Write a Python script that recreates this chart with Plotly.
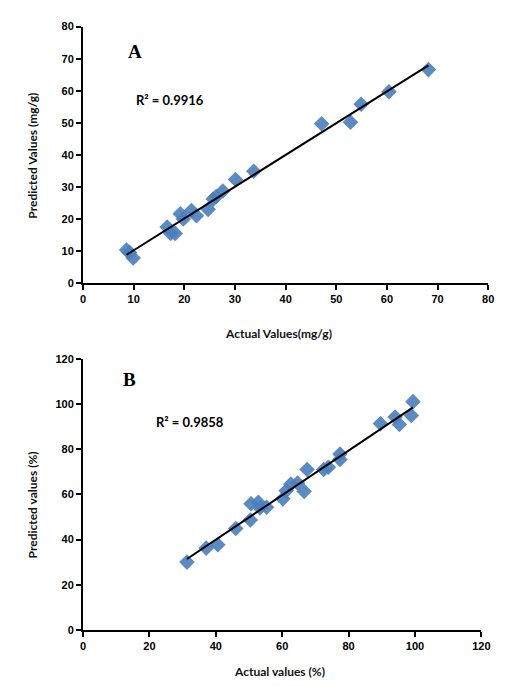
import numpy as np
import plotly.graph_objects as go

# Panel A: adsorption capacity (mg/g)
actual_a = [8.6, 9.2, 9.9, 16.6, 17.3, 18.2, 19.2, 19.8, 21.4, 22.4, 24.7, 25.7,
            26.3, 27.6, 30.1, 33.7, 47.1, 52.8, 54.9, 60.4, 68.2]
predicted_a = [10.3, 9.5, 7.8, 17.5, 15.5, 15.5, 21.6, 20.0, 22.6, 21.0, 23.0, 26.2,
               27.0, 28.7, 32.3, 34.9, 49.7, 50.2, 55.8, 59.7, 66.6]

# Panel B: removal efficiency (%)
actual_b = [31.3, 37.1, 40.6, 46.0, 50.4, 50.6, 52.8, 53.3, 55.3, 60.2, 61.2, 62.6,
            64.6, 66.6, 67.5, 72.5, 73.9, 77.4, 77.4, 89.6, 94.0, 95.3, 98.9, 99.4]
predicted_b = [30.0, 36.2, 37.7, 44.9, 48.6, 55.8, 56.5, 54.0, 54.3, 58.0, 61.6, 64.5,
               65.0, 61.3, 71.0, 71.0, 72.0, 77.8, 75.4, 91.3, 94.2, 90.9, 94.9, 101.0]

r2_labels = ["R² = 0.9916", "R² = 0.9858"]
panel_labels = ["A", "B"]
ticks_a = list(range(0, 81, 10))
ticks_b = list(range(0, 121, 20))

W, H = 506, 686
marker_color = "#4a7ebb"
label_font = dict(family="Lato, Liberation Sans, Arial", size=12, color="#111111")
tick_font = dict(family="Liberation Sans, Arial", size=11, color="black")


def px_x(p):
    return p / W


def px_y(p):
    return 1 - p / H


def bold_ticks(vals):
    return [f"<b>{v}</b>" for v in vals]


fig = go.Figure()


def add_panel(xs, ys, xa, ya):
    fig.add_trace(go.Scatter(
        x=xs, y=ys, mode="markers", xaxis=xa, yaxis=ya,
        marker=dict(symbol="diamond", size=12, color=marker_color, opacity=0.9,
                    line=dict(width=0)),
        showlegend=False,
    ))
    slope, intercept = np.polyfit(xs, ys, 1)
    lx = np.array([min(xs), max(xs)])
    fig.add_trace(go.Scatter(
        x=lx, y=slope * lx + intercept, mode="lines", xaxis=xa, yaxis=ya,
        line=dict(color="black", width=2), showlegend=False,
    ))


add_panel(actual_a, predicted_a, "x", "y")
add_panel(actual_b, predicted_b, "x2", "y2")

axis_common = dict(
    showline=True, linecolor="black", linewidth=2,
    ticks="outside", ticklen=5, tickwidth=2, tickcolor="black",
    showgrid=False, zeroline=False, tickfont=tick_font,
    fixedrange=True,
)

fig.update_layout(
    width=W, height=H,
    margin=dict(l=0, r=0, t=0, b=0),
    paper_bgcolor="white", plot_bgcolor="white",
    xaxis=dict(domain=[px_x(82), px_x(497)], range=[0, 80], tickvals=ticks_a,
               ticktext=bold_ticks(ticks_a), anchor="y", **axis_common),
    yaxis=dict(domain=[px_y(282), px_y(21)], range=[0, 80], tickvals=ticks_a,
               ticktext=bold_ticks(ticks_a), anchor="x", **axis_common),
    xaxis2=dict(domain=[px_x(82), px_x(490)], range=[0, 120], tickvals=ticks_b,
                ticktext=bold_ticks(ticks_b), anchor="y2", **axis_common),
    yaxis2=dict(domain=[px_y(635), px_y(359)], range=[0, 120], tickvals=ticks_b,
                ticktext=bold_ticks(ticks_b), anchor="x2", **axis_common),
)

# axis titles
titles = [
    ("Actual Values(mg/g)", 282, 333, 0),
    ("Predicted Values (mg/g)", 30, 152, -90),
    ("Actual values (%)", 283, 677, 0),
    ("Predicted values (%)", 30, 508, -90),
]
for text, x, y, ang in titles:
    fig.add_annotation(text=f"<b>{text}</b>", xref="paper", yref="paper",
                       x=px_x(x), y=px_y(y), showarrow=False, textangle=ang,
                       font=label_font, xanchor="center", yanchor="middle")

# panel letters and R² labels
for label, x, y in zip(panel_labels, [135, 130], [46, 380]):
    fig.add_annotation(text=f"<b>{label}</b>", xref="paper", yref="paper",
                       x=px_x(x), y=px_y(y), showarrow=False,
                       font=dict(family="Liberation Serif, Times New Roman", size=19,
                                 color="black"),
                       xanchor="center", yanchor="middle")
for label, x, y in zip(r2_labels, [134, 155], [96, 423]):
    fig.add_annotation(text=f"<b>{label}</b>", xref="paper", yref="paper",
                       x=px_x(x), y=px_y(y), showarrow=False,
                       font=dict(family="Lato, Liberation Sans, Arial", size=13,
                                 color="black"),
                       xanchor="left", yanchor="middle")

fig.write_html("out.html")
